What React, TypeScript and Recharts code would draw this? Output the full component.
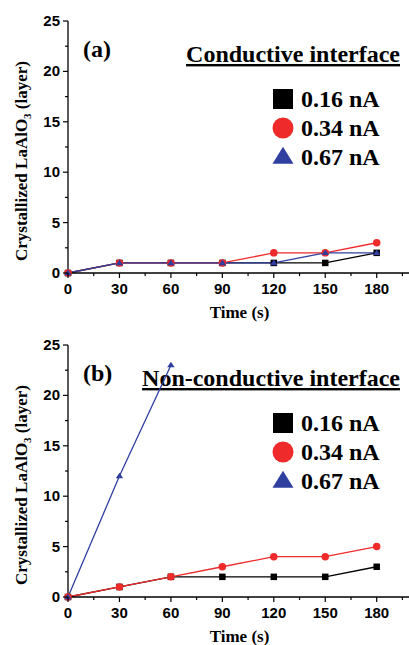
import { LineChart, Line, XAxis, YAxis, Legend, Customized } from "recharts"

// time axis (s)
const times = [0, 30, 60, 90, 120, 150, 180]
const seriesNames = ["0.16 nA", "0.34 nA", "0.67 nA"]
const seriesKeys = ["low", "mid", "high"]
const colors = ["#000000", "#ee2a2a", "#2f3f9f"]

// (a) conductive interface
const condLow = [0, 1, 1, 1, 1, 1, 2]
const condMid = [0, 1, 1, 1, 2, 2, 3]
const condHigh = [0, 1, 1, 1, 1, 2, 2]

// (b) non-conductive interface
const nonLow = [0, 1, 2, 2, 2, 2, 3]
const nonMid = [0, 1, 2, 3, 4, 4, 5]
const nonHigh = [0, 12, 23, null, null, null, null]

const xTicks = [0, 15, 30, 45, 60, 75, 90, 105, 120, 135, 150, 165, 180, 195]
const yTicks = [0, 2.5, 5, 7.5, 10, 12.5, 15, 17.5, 20, 22.5, 25]

const serif = '"Liberation Serif", "Times New Roman", serif'
const sans = '"Liberation Sans", Arial, sans-serif'

const buildRows = (low: (number | null)[], mid: (number | null)[], high: (number | null)[]) =>
  times.map((t, i) => ({ time: t, low: low[i], mid: mid[i], high: high[i] }))

const dataA = buildRows(condLow, condMid, condHigh)
const dataB = buildRows(nonLow, nonMid, nonHigh)

function Marker({ kind, cx, cy, size }: { kind: number; cx: number; cy: number; size: number }) {
  const fill = colors[kind]
  if (kind === 0) {
    return <rect x={cx - size / 2} y={cy - size / 2} width={size} height={size} fill={fill} />
  }
  if (kind === 1) {
    return <circle cx={cx} cy={cy} r={size / 2 + 0.5} fill={fill} />
  }
  const h = size * 0.85
  return (
    <polygon
      points={`${cx},${cy - h * 0.6} ${cx + size / 2 + 0.5},${cy + h * 0.4} ${cx - size / 2 - 0.5},${cy + h * 0.4}`}
      fill={fill}
    />
  )
}

const makeDot = (kind: number) => (p: any) => {
  if (p.value == null || p.cy == null || isNaN(p.cy)) return <g key={`e-${kind}-${p.index}`} />
  return (
    <g key={`d-${kind}-${p.index}`}>
      <Marker kind={kind} cx={p.cx} cy={p.cy} size={6.5} />
    </g>
  )
}

function XTick(props: any) {
  const { x, y, payload } = props
  const major = payload.value % 30 === 0
  return (
    <g>
      <line x1={x} x2={x} y1={y} y2={y + (major ? 5 : 3)} stroke="#000" strokeWidth={1.2} />
      {major && (
        <text x={x} y={y + 21} textAnchor="middle" fontFamily={sans} fontWeight="bold" fontSize={15} fill="#000">
          {payload.value}
        </text>
      )}
    </g>
  )
}

function YTick(props: any) {
  const { x, y, payload } = props
  const major = payload.value % 5 === 0
  return (
    <g>
      <line x1={x - (major ? 5 : 3)} x2={x} y1={y} y2={y} stroke="#000" strokeWidth={1.2} />
      {major && (
        <text x={x - 8} y={y + 5} textAnchor="end" fontFamily={sans} fontWeight="bold" fontSize={15} fill="#000">
          {payload.value}
        </text>
      )}
    </g>
  )
}

const renderLegend = (props: any) => (
  <svg width={150} height={90}>
    {(props.payload || []).map((entry: any, i: number) => (
      <g key={entry.value}>
        <Marker kind={seriesKeys.indexOf(entry.dataKey)} cx={13} cy={14 + i * 29} size={20} />
        <text
          x={31}
          y={22 + i * 29}
          fontFamily={serif}
          fontWeight="bold"
          fontSize={24}
          fill="#000"
        >
          {entry.value}
        </text>
      </g>
    ))}
  </svg>
)

function Panel({ tag, title, data }: { tag: string; title: string; data: any[] }) {
  return (
    <LineChart width={420} height={324} data={data} margin={{ top: 21, right: 9, left: 0, bottom: 0 }}>
      <XAxis
        dataKey="time"
        type="number"
        domain={[0, 200]}
        ticks={xTicks}
        interval={0}
        tick={<XTick />}
        tickLine={false}
        tickSize={0}
        tickMargin={0}
        height={51}
        axisLine={{ stroke: "#000", strokeWidth: 1.3 }}
        label={{
          content: (p: any) => (
            <text
              x={p.viewBox.x + p.viewBox.width / 2}
              y={p.viewBox.y + 45}
              textAnchor="middle"
              fontFamily={serif}
              fontWeight="bold"
              fontSize={17}
              fill="#000"
            >
              Time (s)
            </text>
          ),
        }}
      />
      <XAxis
        xAxisId="top"
        orientation="top"
        type="number"
        domain={[0, 200]}
        tick={false}
        tickLine={false}
        height={0}
        axisLine={{ stroke: "#000", strokeWidth: 1.3 }}
      />
      <YAxis
        type="number"
        domain={[0, 25]}
        ticks={yTicks}
        interval={0}
        width={68}
        tick={<YTick />}
        tickLine={false}
        tickSize={0}
        tickMargin={0}
        axisLine={{ stroke: "#000", strokeWidth: 1.3 }}
        label={{
          content: () => (
            <text
              x={27}
              y={161}
              transform="rotate(-90, 27, 161)"
              textAnchor="middle"
              fontFamily={serif}
              fontWeight="bold"
              fontSize={17}
              fill="#000"
            >
              Crystallized LaAlO
              <tspan fontSize={11} dy={4}>3</tspan>
              <tspan dy={-4}> (layer)</tspan>
            </text>
          ),
        }}
      />
      <Legend
        layout="vertical"
        align="center"
        verticalAlign="middle"
        content={renderLegend}
        wrapperStyle={{ left: 270, top: 85, width: 150 }}
      />
      {seriesKeys.map((k, i) => (
        <Line
          key={k}
          dataKey={k}
          name={seriesNames[i]}
          stroke={colors[i]}
          strokeWidth={1.3}
          dot={makeDot(i)}
          activeDot={false}
          isAnimationActive={false}
        />
      ))}
      <Customized
        component={() => (
          <g>
            <text x={83} y={57} fontFamily={serif} fontWeight="bold" fontSize={24} fill="#000">
              {tag}
            </text>
            <text
              x={400}
              y={62}
              textAnchor="end"
              fontFamily={serif}
              fontWeight="bold"
              fontSize={24}
              fill="#000"
              style={{ textDecoration: "underline" }}
            >
              {title}
            </text>
          </g>
        )}
      />
    </LineChart>
  )
}

export default function App() {
  return (
    <div
      style={{
        position: "absolute",
        left: 0,
        top: 0,
        width: 409,
        height: 645,
        overflow: "hidden",
        background: "#fff",
      }}
    >
      <div style={{ position: "absolute", left: 0, top: 0 }}>
        <Panel tag="(a)" title="Conductive interface" data={dataA} />
      </div>
      <div style={{ position: "absolute", left: 0, top: 324 }}>
        <Panel tag="(b)" title="Non-conductive interface" data={dataB} />
      </div>
    </div>
  )
}
